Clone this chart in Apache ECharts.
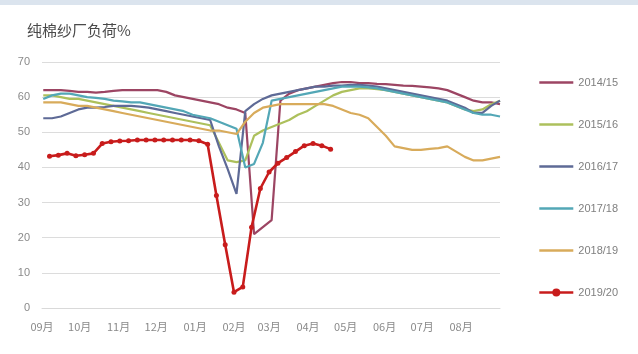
<!DOCTYPE html>
<html>
<head>
<meta charset="utf-8">
<script src="https://cdn.jsdelivr.net/npm/echarts@6/dist/echarts.min.js"></script>
<style>
  html, body { margin: 0; padding: 0; background: #ffffff; }
  #chart { width: 638px; height: 354px; }
</style>
</head>
<body>
<div id="chart"></div>
<script>
// Month tick labels and the day (from 1 Sep) on which each month begins
const months = ['09月', '10月', '11月', '12月', '01月', '02月', '03月', '04月', '05月', '06月', '07月', '08月'];
const monthStartDay = [0, 30, 61, 91, 122, 153, 181, 212, 242, 273, 303, 334];

// Season names and the day of the first weekly reading in each season
const seasons = ['2014/15', '2015/16', '2016/17', '2017/18', '2018/19', '2019/20'];
const firstWeekDay = [1, 1, 1, 1, 1, 6];

// Weekly mill load (%) per season
const load1415 = [62, 62, 62, 61.8, 61.5, 61.5, 61.3, 61.5, 61.8, 62, 62, 62, 62, 62, 61.5, 60.5, 60, 59.5, 59, 58.5, 58, 57, 56.5, 55.5, 21, 23, 25, 59, 61, 62, 62.5, 63, 63.5, 64, 64.3, 64.3, 64, 64, 63.8, 63.7, 63.5, 63.3, 63.2, 63, 62.8, 62.5, 62, 61, 60, 59, 58.5, 58.5, 58];
const load1516 = [60.5, 60.5, 60, 59.5, 59.5, 59, 58.5, 58, 57.5, 57, 56.5, 56, 55.5, 55, 54.5, 54, 53.5, 53, 52.5, 52, 47, 42, 41.5, 42, 49, 50.5, 51.5, 52.5, 53.5, 55, 56, 57.5, 59, 60.5, 61.5, 62, 62.5, 62.5, 62.3, 62, 61.5, 61, 60.5, 60, 59.5, 59, 58.5, 57.5, 56.5, 56, 56.5, 58, 59];
const load1617 = [54, 54, 54.5, 55.5, 56.5, 57, 57, 57.2, 57.5, 57.5, 57.5, 57.3, 57, 56.5, 56, 55.5, 55, 54.5, 54, 53.5, 46, 39.5, 32.5, 56, 58, 59.5, 60.5, 61, 61.5, 62, 62.5, 63, 63, 63.3, 63.3, 63.5, 63.5, 63.3, 63, 62.5, 62, 61.5, 61, 60.5, 60, 59.5, 59, 58, 57, 55.5, 55.5, 57.5, 59];
const load1718 = [59.5, 60.5, 61, 61, 60.5, 60, 59.8, 59.5, 59, 58.8, 58.5, 58.5, 58, 57.5, 57, 56.5, 56, 55, 54.5, 54, 53, 52, 51, 40, 41, 47, 59, 59.5, 60, 60.5, 61, 61.5, 62, 62.5, 63, 63, 63, 62.8, 62.5, 62, 61.5, 61, 60.5, 60, 59.5, 59, 58.5, 57.5, 56.5, 55.5, 55, 55, 54.5];
const load1819 = [58.5, 58.5, 58.5, 58, 57.5, 57.5, 57, 56.5, 56, 55.5, 55, 54.5, 54, 53.5, 53, 52.5, 52, 51.5, 51, 50.5, 50.5, 50, 49.5, 53, 55.5, 57, 57.5, 58, 58, 58, 58, 58, 58, 57.5, 56.5, 55.5, 55, 54, 51.5, 49, 46, 45.5, 45, 45, 45.3, 45.5, 46, 44.5, 43, 42, 42, 42.5, 43];
const load1920 = [43.2, 43.5, 44, 43.3, 43.6, 44, 46.8, 47.3, 47.5, 47.6, 47.8, 47.8, 47.8, 47.8, 47.8, 47.8, 47.8, 47.6, 46.6, 32, 18, 4.5, 6, 23, 34, 38.7, 41.2, 42.8, 44.5, 46.2, 46.8, 46.2, 45.2];

const loads = [load1415, load1516, load1617, load1718, load1819, load1920];
const colors = ['#9c4563', '#adc05c', '#5e6a96', '#53a7b6', '#d8ab5b', '#c81c1c'];
const currentIdx = seasons.length - 1;

// Pair each weekly reading with its day in the season
function toPoints(values, startDay) {
  return values.map((v, i) => [startDay + i * 7, v]);
}

const series = seasons.map((name, k) => {
  const isCurrent = k === currentIdx;
  return {
    name: name,
    type: 'line',
    data: toPoints(loads[k], firstWeekDay[k]),
    symbol: isCurrent ? 'circle' : 'none',
    symbolSize: 5,
    showSymbol: isCurrent,
    z: isCurrent ? 10 : 2 + k,
    lineStyle: { width: isCurrent ? 2.6 : 2.2, color: colors[k] },
    itemStyle: { color: colors[k] },
    emphasis: { disabled: true }
  };
});

// Legend entries: only the current season carries a marker
const legendData = seasons.map((name, k) => (
  k === currentIdx
    ? { name: name }
    : { name: name, itemStyle: { opacity: 0 } }
));

const chart = echarts.init(document.getElementById('chart'), null, { renderer: 'canvas' });
chart.setOption({
  animation: false,
  backgroundColor: '#ffffff',
  textStyle: { fontFamily: '"Noto Sans CJK SC", "Liberation Sans", sans-serif' },
  graphic: [
    { type: 'rect', left: 0, top: 0, shape: { width: 638, height: 5 }, style: { fill: '#dbe4ee' } }
  ],
  title: {
    text: '纯棉纱厂负荷%',
    left: 22,
    top: 18,
    textStyle: { fontSize: 15, fontWeight: 'normal', color: '#4a4a4a' }
  },
  legend: {
    orient: 'vertical',
    left: 533,
    top: 72,
    itemWidth: 34,
    itemHeight: 10,
    itemGap: 31,
    lineStyle: { width: 2.6 },
    textStyle: { fontSize: 11, color: '#7f7f7f', fontFamily: '"Liberation Sans", sans-serif' },
    data: legendData
  },
  grid: { left: 42, right: 138, top: 62, bottom: 46 },
  xAxis: {
    type: 'value',
    min: 0,
    max: 365,
    axisLine: { show: true, lineStyle: { color: '#d9d9d9', width: 1 } },
    axisTick: { show: false },
    splitLine: { show: false },
    axisLabel: {
      customValues: monthStartDay,
      formatter: v => months[monthStartDay.indexOf(v)],
      color: '#8a8a8a',
      fontSize: 11,
      margin: 13
    }
  },
  yAxis: {
    type: 'value',
    min: 0,
    max: 70,
    interval: 10,
    axisLine: { show: false },
    axisTick: { show: false },
    splitLine: { lineStyle: { color: '#dcdcdc', width: 1 } },
    axisLabel: { color: '#8a8a8a', fontSize: 11, margin: 12, fontFamily: '"Liberation Sans", sans-serif' }
  },
  series: series
});
</script>
</body>
</html>
